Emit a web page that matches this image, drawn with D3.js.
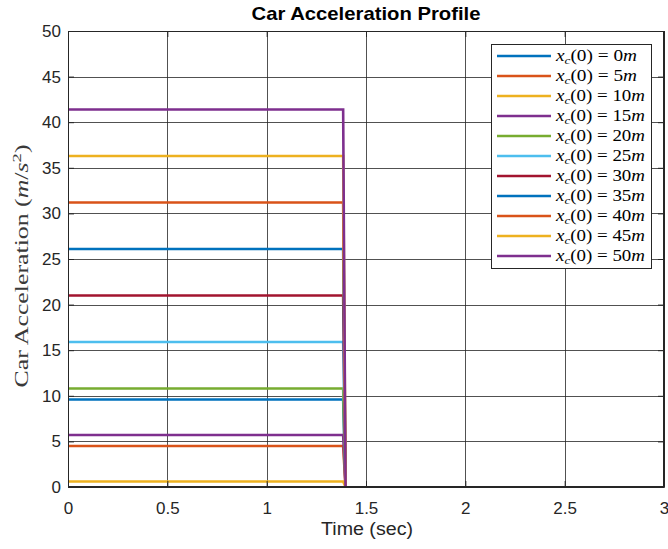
<!DOCTYPE html>
<html><head><meta charset="utf-8">
<script src="https://cdn.jsdelivr.net/npm/d3@7/dist/d3.min.js"></script>
<style>body{margin:0;background:#fff}svg{display:block}</style>
</head><body><svg id="c" width="668" height="549"></svg>
<script>
const positions = [0,5,10,15,20,25,30,35,40,45,50];
const accel = [9.6,4.5,0.6,5.7,10.8,15.9,21.0,26.1,31.2,36.3,41.4];
const tEnd = 1.385, tDrop = 1.397;
const colors = ["#0072BD","#D95319","#EDB120","#7E2F8E","#77AC30","#4DBEEE","#A2142F"];
const xTicks = [0,0.5,1,1.5,2,2.5,3];
const yTicks = [0,5,10,15,20,25,30,35,40,45,50];

const svg = d3.select("#c");
const L=68,R=664,T=31,B=487;
const x = d3.scaleLinear().domain([0,3]).range([L,R]);
const y = d3.scaleLinear().domain([0,50]).range([B,T]);
const sans = "'Liberation Sans', Arial, sans-serif";
const serif = "'Liberation Serif', 'DejaVu Serif', serif";

svg.append("rect").attr("x",L).attr("y",T).attr("width",R-L).attr("height",B-T).attr("fill","#fff");
// grid
const g = svg.append("g").attr("stroke","#262626").attr("stroke-opacity",0.8).attr("stroke-width",1);
xTicks.slice(1,-1).forEach(t=>g.append("line").attr("x1",Math.round(x(t))+0.5).attr("x2",Math.round(x(t))+0.5).attr("y1",T).attr("y2",B));
yTicks.slice(1,-1).forEach(t=>g.append("line").attr("y1",Math.round(y(t))+0.5).attr("y2",Math.round(y(t))+0.5).attr("x1",L).attr("x2",R));

// data lines
const line = d3.line().x(d=>x(d[0])).y(d=>y(d[1]));
accel.forEach((a,i)=>{
  const pts=[[0,a],[tEnd,a],[tDrop,0]];
  svg.append("path").attr("d",line(pts)).attr("fill","none")
    .attr("stroke",colors[i%7]).attr("stroke-width",2.6).attr("stroke-linejoin","miter");
});

// axes
const xa = svg.append("g").attr("transform",`translate(0,${B})`)
  .call(d3.axisBottom(x).tickValues(xTicks).tickFormat(d3.format("")).tickSizeInner(-6).tickSizeOuter(0).tickPadding(15));
const ya = svg.append("g").attr("transform",`translate(${L},0)`)
  .call(d3.axisLeft(y).tickValues(yTicks).tickFormat(d3.format("")).tickSizeInner(-6).tickSizeOuter(0).tickPadding(7));
const xt = svg.append("g").attr("transform",`translate(0,${T})`)
  .call(d3.axisTop(x).tickValues(xTicks).tickFormat("").tickSizeInner(-6).tickSizeOuter(0));
const yr = svg.append("g").attr("transform",`translate(${R},0)`)
  .call(d3.axisRight(y).tickValues(yTicks).tickFormat("").tickSizeInner(-6).tickSizeOuter(0));
[xa,ya,xt,yr].forEach(a=>{
  a.selectAll("path").attr("stroke","#262626");
  a.selectAll("line").attr("stroke","#262626");
  a.selectAll("text").attr("fill","#262626").style("font-family",sans).style("font-size","17px");
});
svg.append("rect").attr("x",L+0.5).attr("y",T+0.5).attr("width",R-L-1).attr("height",B-T-1)
  .attr("fill","none").attr("stroke","#262626").attr("stroke-width",1);

// title & labels
svg.append("text").attr("x",(L+R)/2).attr("y",20).attr("text-anchor","middle")
  .attr("textLength",229).attr("lengthAdjust","spacingAndGlyphs")
  .style("font-family",sans).style("font-size","18.5px").style("font-weight","bold").attr("fill","#000")
  .text("Car Acceleration Profile");
svg.append("text").attr("x",367).attr("y",535).attr("text-anchor","middle")
  .attr("textLength",92).attr("lengthAdjust","spacingAndGlyphs")
  .style("font-family",sans).style("font-size","18px").attr("fill","#262626").text("Time (sec)");
const yl = svg.append("text").attr("transform",`translate(28,266) rotate(-90)`).attr("text-anchor","middle")
  .attr("textLength",243).attr("lengthAdjust","spacingAndGlyphs")
  .style("font-family",serif).style("font-size","18px").attr("fill","#3a3a3a");
yl.append("tspan").text("Car Acceleration (");
yl.append("tspan").style("font-style","italic").text("m");
yl.append("tspan").text("/");
yl.append("tspan").style("font-style","italic").text("s");
yl.append("tspan").attr("dy",-7).style("font-size","13px").text("2");
yl.append("tspan").attr("dy",7).text(")");

// legend
const lx=491, ly=44, lw=160, lh=224;
svg.append("rect").attr("x",lx+0.5).attr("y",ly+0.5).attr("width",lw).attr("height",lh)
  .attr("fill","#fff").attr("stroke","#262626").attr("stroke-width",1);
positions.forEach((p,i)=>{
  const yy = ly+12+i*20;
  svg.append("line").attr("x1",lx+6).attr("x2",lx+60).attr("y1",yy).attr("y2",yy)
    .attr("stroke",colors[i%7]).attr("stroke-width",2.6);
  const t = svg.append("text").attr("x",lx+65).attr("y",yy+5)
    .attr("textLength", p<10 ? 81 : 89).attr("lengthAdjust","spacingAndGlyphs")
    .style("font-family",serif).style("font-size","16px").attr("fill","#000");
  t.append("tspan").style("font-style","italic").text("x");
  t.append("tspan").style("font-style","italic").style("font-size","11px").attr("dy",3).text("c");
  t.append("tspan").attr("dy",-3).text("(0) = " + p);
  t.append("tspan").style("font-style","italic").text("m");
});
</script></body></html>
